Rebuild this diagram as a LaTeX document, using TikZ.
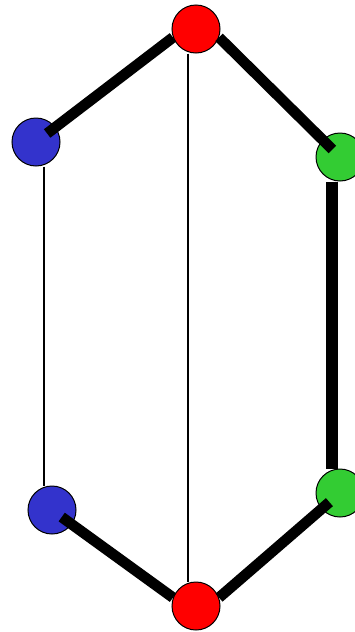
\documentclass[tikz,border=0pt]{standalone}
\definecolor{vblue}{RGB}{51,51,204}
\definecolor{vgreen}{RGB}{51,204,51}
\definecolor{vred}{RGB}{255,0,0}
\begin{document}
\begin{tikzpicture}[x=0.75pt,y=-0.75pt,
	vert/.style={circle,draw=black,line width=0.75pt,minimum size=36pt,inner sep=0pt},
	thinedge/.style={line width=1.5pt},
	fatedge/.style={line width=8pt},
	bar/.style={line width=9pt}]
	\useasboundingbox (0,0) rectangle (354,632);
	\path
	(36,142) node[vert,fill=vblue] (B1) {}
	(52,510) node[vert,fill=vblue] (B2) {}
	(340,157) node[vert,fill=vgreen] (G1) {}
	(340,493) node[vert,fill=vgreen] (G2) {}
	(196,29) node[vert,fill=vred] (R1) {}
	(196,606) node[vert,fill=vred] (R2) {};
	\draw[thinedge] ([xshift=6pt]B1.south) -- ([xshift=6pt]B1.south |- B2.north);
	\draw[thinedge] ([xshift=-6pt]R1.south) -- ([xshift=-6pt]R2.north);
	\draw[bar] ([xshift=-6pt]G1.south) -- ([xshift=-6pt]G2.north);
	\draw[fatedge,shorten >=10.5pt] (R1.200) -- (B1.center);
	\draw[fatedge,shorten >=8pt] (R1.-20) -- (G1.center);
	\draw[fatedge,shorten >=9pt] (R2.160) -- (B2.center);
	\draw[fatedge,shorten >=10.5pt] (R2.20) -- (G2.center);
\end{tikzpicture}
\end{document}
